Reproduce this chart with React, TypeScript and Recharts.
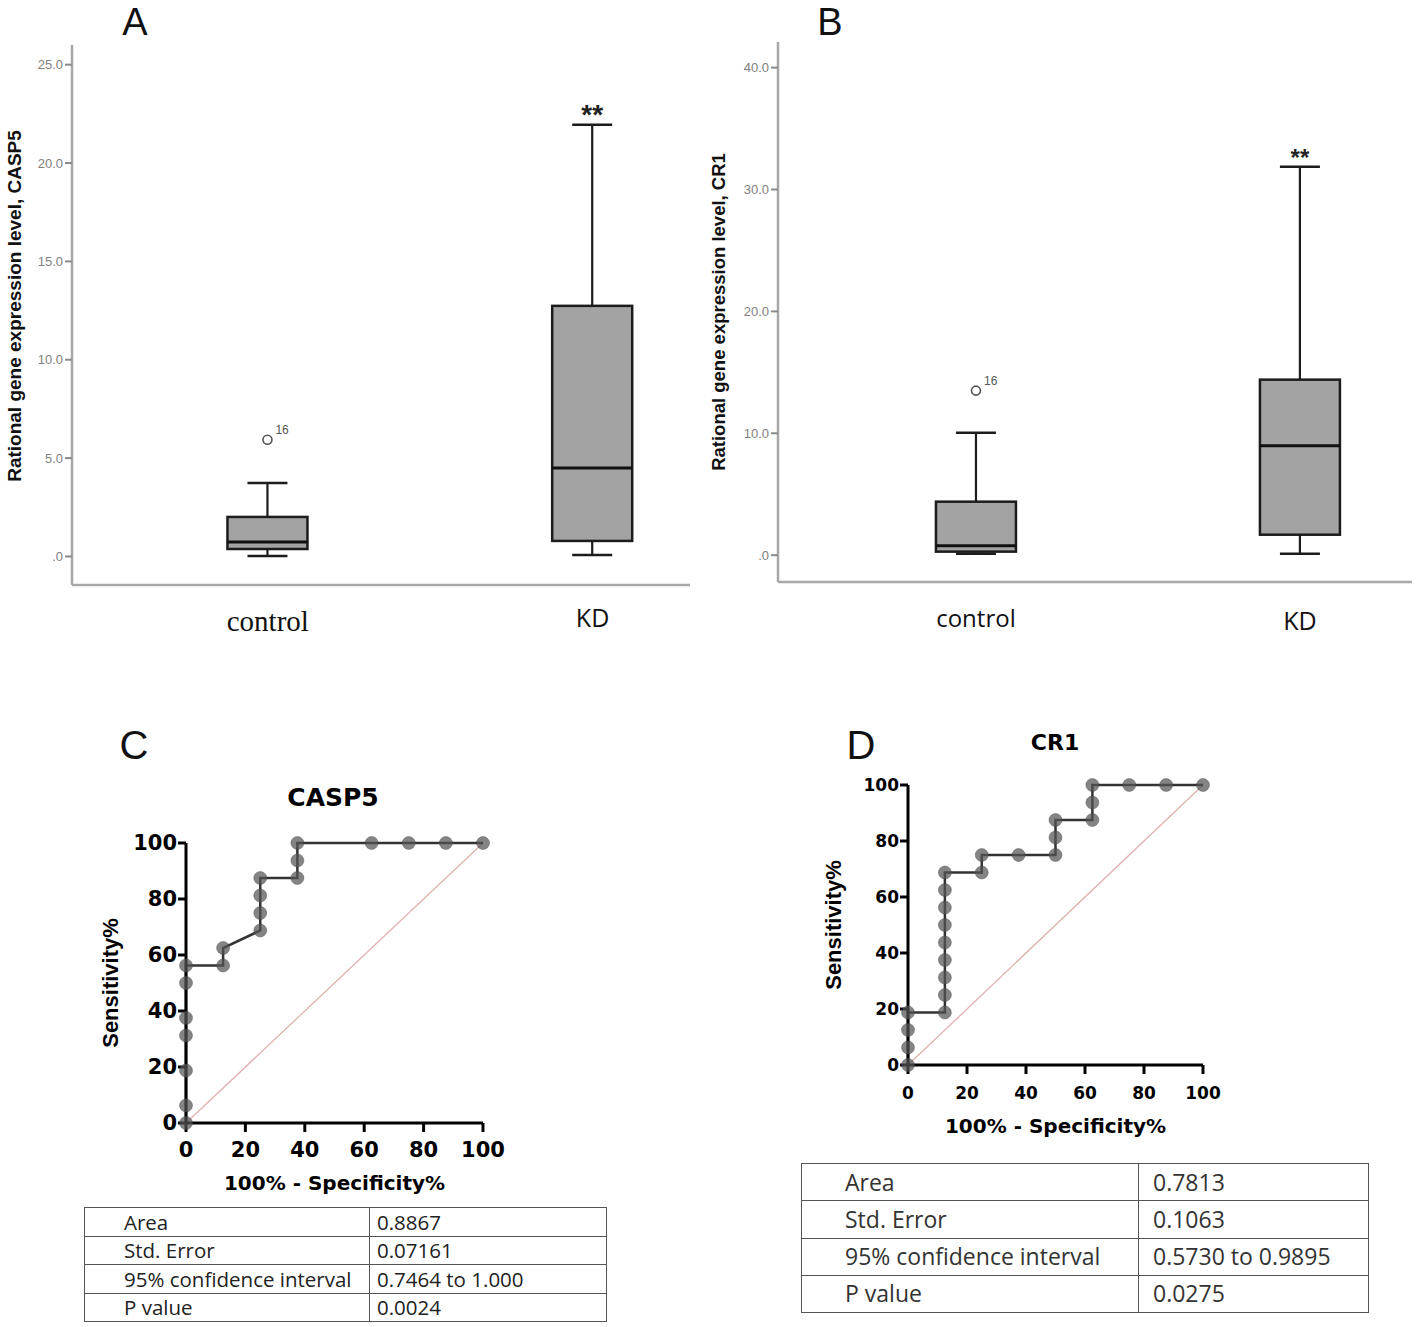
import React from 'react';
import { ComposedChart, Bar, XAxis, YAxis, LineChart, Line, ReferenceLine } from 'recharts';

// ---------- Box plot data ----------
const BOX_CATEGORIES = ['control', 'KD'];
const OUTLIER_LABELS = ['16', ''];
const SIG_MARKS = ['', '**'];

const CASP5_Q1 = [0.38, 0.79];
const CASP5_MEDIAN = [0.74, 4.5];
const CASP5_Q3 = [2.01, 12.74];
const CASP5_WHISKER_LO = [0.03, 0.08];
const CASP5_WHISKER_HI = [3.74, 21.95];
const CASP5_OUTLIER = [5.93, null];
const CASP5_TICKS = [0, 5, 10, 15, 20, 25];

const CR1_Q1 = [0.29, 1.68];
const CR1_MEDIAN = [0.78, 8.98];
const CR1_Q3 = [4.39, 14.4];
const CR1_WHISKER_LO = [0.12, 0.12];
const CR1_WHISKER_HI = [10.05, 31.87];
const CR1_OUTLIER = [13.5, null];
const CR1_TICKS = [0, 10, 20, 30, 40];

// ---------- ROC data ----------
const ROC_TICKS = [0, 20, 40, 60, 80, 100];
const CASP5_FPR = [0, 0, 0, 0, 0, 0, 0, 12.5, 12.5, 25, 25, 25, 25, 37.5, 37.5, 37.5, 62.5, 75, 87.5, 100];
const CASP5_SENS = [0, 6.25, 18.75, 31.25, 37.5, 50, 56.25, 56.25, 62.5, 68.75, 75, 81.25, 87.5, 87.5, 93.75, 100, 100, 100, 100, 100];
const CR1_FPR = [0, 0, 0, 0, 12.5, 12.5, 12.5, 12.5, 12.5, 12.5, 12.5, 12.5, 12.5, 25, 25, 37.5, 50, 50, 50, 62.5, 62.5, 62.5, 75, 87.5, 100];
const CR1_SENS = [0, 6.25, 12.5, 18.75, 18.75, 25, 31.25, 37.5, 43.75, 50, 56.25, 62.5, 68.75, 68.75, 75, 75, 75, 81.25, 87.5, 87.5, 93.75, 100, 100, 100, 100];

// ---------- Table data ----------
const TABLE_LABELS = ['Area', 'Std. Error', '95% confidence interval', 'P value'];
const CASP5_STATS = ['0.8867', '0.07161', '0.7464 to 1.000', '0.0024'];
const CR1_STATS = ['0.7813', '0.1063', '0.5730 to 0.9895', '0.0275'];

const buildBoxData = (q1: number[], med: number[], q3: number[], lo: number[], hi: number[], out: (number | null)[]) =>
  BOX_CATEGORIES.map((name, i) => ({
    pos: i + 1,
    name,
    q1: q1[i],
    median: med[i],
    q3: q3[i],
    lo: lo[i],
    hi: hi[i],
    outlier: out[i],
    outlierLabel: OUTLIER_LABELS[i],
    sig: SIG_MARKS[i],
  }));

const casp5Box = buildBoxData(CASP5_Q1, CASP5_MEDIAN, CASP5_Q3, CASP5_WHISKER_LO, CASP5_WHISKER_HI, CASP5_OUTLIER);
const cr1Box = buildBoxData(CR1_Q1, CR1_MEDIAN, CR1_Q3, CR1_WHISKER_LO, CR1_WHISKER_HI, CR1_OUTLIER);
const casp5Roc = CASP5_FPR.map((x, i) => ({ x, y: CASP5_SENS[i] }));
const cr1Roc = CR1_FPR.map((x, i) => ({ x, y: CR1_SENS[i] }));

const SANS = 'Liberation Sans, Arial, sans-serif';

const BoxShape = (props: any) => {
  const { x, y, width, height, payload, starSize } = props;
  if (!payload) return null;
  const top = height >= 0 ? y : y + height;
  const h = Math.abs(height);
  const k = h / (payload.q3 - payload.q1);
  const py = (v: number) => top + (payload.q3 - v) * k;
  const cx = x + width / 2;
  const cap = width / 4;
  const stroke = '#1c1c1c';
  return (
    <g>
      <line x1={cx} x2={cx} y1={py(payload.hi)} y2={top} stroke={stroke} strokeWidth={2.2} />
      <line x1={cx - cap} x2={cx + cap} y1={py(payload.hi)} y2={py(payload.hi)} stroke={stroke} strokeWidth={2.5} />
      <line x1={cx} x2={cx} y1={top + h} y2={py(payload.lo)} stroke={stroke} strokeWidth={2.2} />
      <line x1={cx - cap} x2={cx + cap} y1={py(payload.lo)} y2={py(payload.lo)} stroke={stroke} strokeWidth={2.5} />
      <rect x={x} y={top} width={width} height={h} fill="#a3a3a3" stroke={stroke} strokeWidth={2.5} />
      <line x1={x} x2={x + width} y1={py(payload.median)} y2={py(payload.median)} stroke="#111" strokeWidth={3} />
      {payload.outlier != null && (
        <circle cx={cx} cy={py(payload.outlier)} r={4.5} fill="#fff" stroke="#555" strokeWidth={1.6} />
      )}
      {payload.outlier != null && payload.outlierLabel && (
        <text x={cx + 8} y={py(payload.outlier) - 6} fontSize={12} fill="#555" fontFamily={SANS}>
          {payload.outlierLabel}
        </text>
      )}
      {payload.sig && (
        <text x={cx} y={py(payload.hi) - 1} textAnchor="middle" fontSize={starSize} fontWeight="bold" fill="#222" fontFamily={SANS}>
          {payload.sig}
        </text>
      )}
    </g>
  );
};

const fmtBox = (v: number) => (v === 0 ? '.0' : v.toFixed(1));

const BoxPlot = (p: any) => {
  const { data, ticks, domain, xDomain, width, height, margin, yAxisWidth, yLabel, yLabelDx, yLabelDy, yLabelSize, catFonts, catDy, starSize } = p;
  return (
    <ComposedChart width={width} height={height} data={data} margin={margin}>
      <XAxis
        dataKey="pos"
        type="number"
        domain={xDomain}
        ticks={[1, 2]}
        allowDataOverflow
        axisLine={{ stroke: '#a8a8a8', strokeWidth: 2.5 }}
        tickLine={false}
        tickSize={0}
        tickMargin={0}
        height={60}
        tick={(tp: any) => {
          const i = Math.round(tp.payload.value) - 1;
          const f = catFonts[i];
          return (
            <text x={tp.x} y={tp.y + catDy[i]} textAnchor="middle" dominantBaseline="central" fontFamily={f.family} fontSize={f.size} fill="#111">
              {BOX_CATEGORIES[i]}
            </text>
          );
        }}
      />
      <YAxis
        type="number"
        domain={domain}
        ticks={ticks}
        allowDataOverflow
        width={yAxisWidth}
        tickFormatter={fmtBox}
        axisLine={{ stroke: '#a8a8a8', strokeWidth: 2.5 }}
        tickLine={{ stroke: '#8a8a8a', strokeWidth: 2 }}
        tickSize={7}
        tickMargin={2}
        tick={{ fill: '#808080', fontSize: 13, fontFamily: SANS }}
        label={(lp: any) => {
          const vb = lp.viewBox;
          const lx = vb.x + yLabelDx;
          const ly = vb.y + vb.height / 2 + yLabelDy;
          return (
            <text x={lx} y={ly} transform={`rotate(-90 ${lx} ${ly})`} textAnchor="middle" dominantBaseline="central" fontFamily={SANS} fontWeight="bold" fontSize={yLabelSize} fill="#111">
              {yLabel}
            </text>
          );
        }}
      />
      <Bar
        dataKey={(d: any) => [d.q1, d.q3]}
        barSize={80}
        isAnimationActive={false}
        shape={(sp: any) => <BoxShape {...sp} starSize={starSize} />}
      />
    </ComposedChart>
  );
};

const RocChart = (p: any) => {
  const { data, width, height, margin, tickFont, xTickMargin, xLabelDy, yLabelDx } = p;
  const tickStyle = { fill: '#000', fontSize: tickFont, fontWeight: 'bold', fontFamily: 'DejaVu Sans' };
  return (
    <LineChart width={width} height={height} data={data} margin={margin}>
      <XAxis
        dataKey="x"
        type="number"
        domain={[0, 100]}
        ticks={ROC_TICKS}
        axisLine={{ stroke: '#000', strokeWidth: 3 }}
        tickLine={{ stroke: '#000', strokeWidth: 3 }}
        tickSize={9}
        tickMargin={xTickMargin}
        height={70}
        tick={tickStyle}
        label={(lp: any) => {
          const vb = lp.viewBox;
          return (
            <text x={vb.x + vb.width / 2} y={vb.y + xLabelDy} textAnchor="middle" dominantBaseline="central" fontFamily="DejaVu Sans" fontWeight="bold" fontSize={20} fill="#000">
              100% - Specificity%
            </text>
          );
        }}
      />
      <YAxis
        type="number"
        domain={[0, 100]}
        ticks={ROC_TICKS}
        width={60}
        axisLine={{ stroke: '#000', strokeWidth: 3 }}
        tickLine={{ stroke: '#000', strokeWidth: 3 }}
        tickSize={8}
        tickMargin={1}
        tick={tickStyle}
        label={(lp: any) => {
          const vb = lp.viewBox;
          const lx = vb.x + yLabelDx;
          const ly = vb.y + vb.height / 2;
          return (
            <text x={lx} y={ly} transform={`rotate(-90 ${lx} ${ly})`} textAnchor="middle" dominantBaseline="central" fontFamily={SANS} fontWeight="bold" fontSize={22} fill="#000">
              Sensitivity%
            </text>
          );
        }}
      />
      <ReferenceLine segment={[{ x: 0, y: 0 }, { x: 100, y: 100 }]} stroke="#e2b0b0" strokeWidth={1.3} />
      <Line
        dataKey="y"
        type="linear"
        stroke="#333"
        strokeWidth={2.5}
        isAnimationActive={false}
        dot={{ r: 6.5, fill: '#555', fillOpacity: 0.72, stroke: '#444', strokeOpacity: 0.4, strokeWidth: 1 }}
      />
    </LineChart>
  );
};

const StatsTable = (p: any) => {
  const { stats, left, top, width, rowH, col1, pad1, pad2, fontSize, color } = p;
  const cell = { border: '1.5px solid #555', paddingTop: 0, paddingBottom: 0, paddingRight: 0, lineHeight: 1, whiteSpace: 'nowrap' as const, boxSizing: 'border-box' as const };
  return (
    <table
      style={{
        position: 'absolute',
        left,
        top,
        width,
        borderCollapse: 'collapse',
        fontFamily: 'Open Sans, sans-serif',
        fontSize,
        color,
        tableLayout: 'fixed',
      }}
    >
      <colgroup>
        <col style={{ width: col1 }} />
        <col style={{ width: width - col1 }} />
      </colgroup>
      <tbody>
        {TABLE_LABELS.map((lab, i) => (
          <tr key={lab} style={{ height: rowH }}>
            <td style={{ ...cell, paddingLeft: pad1 }}>{lab}</td>
            <td style={{ ...cell, paddingLeft: pad2 }}>{stats[i]}</td>
          </tr>
        ))}
      </tbody>
    </table>
  );
};

export default function App() {
  return (
    <div style={{ position: 'absolute', left: 0, top: 0, width: 1416, height: 1327, background: '#fff', overflow: 'hidden' }}>
      <div style={{ position: 'absolute', left: 0, top: 0 }}>
        <BoxPlot
          data={casp5Box}
          ticks={CASP5_TICKS}
          domain={[-1.45, 26.0]}
          xDomain={[0.397, 2.3]}
          width={700}
          height={660}
          margin={{ top: 45, right: 10, bottom: 15, left: 0 }}
          yAxisWidth={72}
          yLabel="Rational gene expression level, CASP5"
          yLabelDx={14}
          yLabelDy={-9}
          yLabelSize={19}
          catFonts={[
            { family: 'Liberation Serif, Times New Roman, serif', size: 29 },
            { family: 'Open Sans, sans-serif', size: 25 },
          ]}
          catDy={[36, 32]}
          starSize={28}
        />
      </div>
      <div style={{ position: 'absolute', left: 700, top: 0 }}>
        <BoxPlot
          data={cr1Box}
          ticks={CR1_TICKS}
          domain={[-2.2, 42.1]}
          xDomain={[0.389, 2.346]}
          width={716}
          height={660}
          margin={{ top: 42, right: 4, bottom: 18, left: 0 }}
          yAxisWidth={78}
          yLabel="Rational gene expression level, CR1"
          yLabelDx={18}
          yLabelDy={0}
          yLabelSize={18.5}
          catFonts={[
            { family: 'Open Sans, sans-serif', size: 24 },
            { family: 'Open Sans, sans-serif', size: 25 },
          ]}
          catDy={[35, 38]}
          starSize={24}
        />
      </div>
      <div style={{ position: 'absolute', left: 90, top: 770 }}>
        <RocChart
          data={casp5Roc}
          width={420}
          height={430}
          margin={{ top: 73, right: 27, bottom: 7, left: 36 }}
          tickFont={21}
          xTickMargin={10}
          xLabelDy={60}
          yLabelDx={-16}
        />
      </div>
      <div style={{ position: 'absolute', left: 810, top: 710 }}>
        <RocChart
          data={cr1Roc}
          width={420}
          height={430}
          margin={{ top: 75, right: 27, bottom: 5, left: 38 }}
          tickFont={17}
          xTickMargin={13}
          xLabelDy={61}
          yLabelDx={-15}
        />
      </div>
      <StatsTable stats={CASP5_STATS} left={84} top={1207} width={522} rowH={28.5} col1={285} pad1={39} pad2={7} fontSize={20.5} color="#222" />
      <StatsTable stats={CR1_STATS} left={801} top={1163} width={567} rowH={37.25} col1={337} pad1={43} pad2={14} fontSize={23} color="#333" />
      <svg width={1416} height={1327} style={{ position: 'absolute', left: 0, top: 0, pointerEvents: 'none' }}>
        <text x={135} y={35} textAnchor="middle" fontFamily={SANS} fontSize={38} fill="#111">A</text>
        <text x={830} y={35} textAnchor="middle" fontFamily={SANS} fontSize={38} fill="#111">B</text>
        <text x={134} y={759} textAnchor="middle" fontFamily={SANS} fontSize={40} fill="#111">C</text>
        <text x={861} y={759} textAnchor="middle" fontFamily={SANS} fontSize={40} fill="#111">D</text>
        <text x={333} y={806} textAnchor="middle" fontFamily="DejaVu Sans" fontWeight="bold" fontSize={25} fill="#000">CASP5</text>
        <text x={1055} y={750} textAnchor="middle" fontFamily="DejaVu Sans" fontWeight="bold" fontSize={22} fill="#000">CR1</text>
      </svg>
    </div>
  );
}
